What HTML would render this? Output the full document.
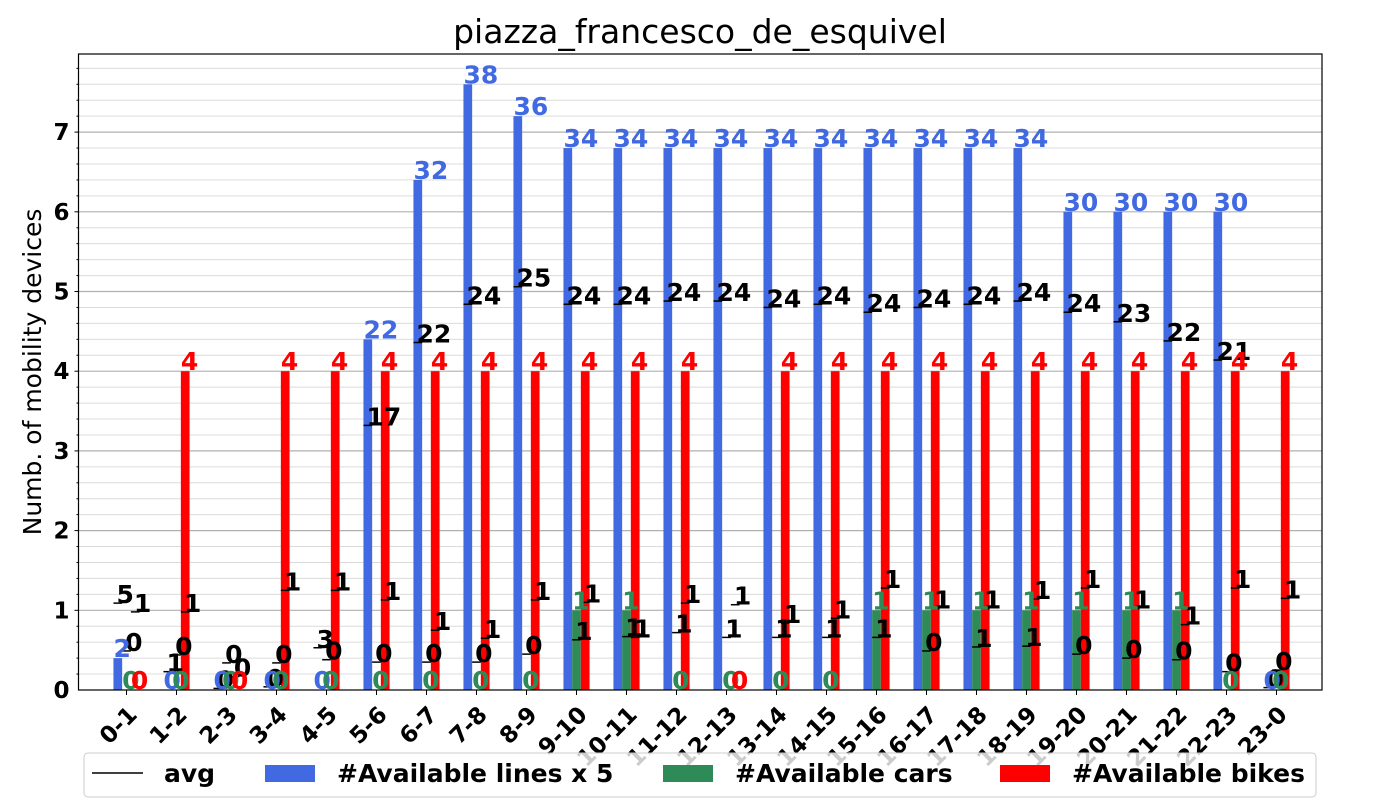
<!DOCTYPE html>
<html><head><meta charset="utf-8"><style>
html,body{margin:0;padding:0;background:#fff;}
svg text{font-family:"DejaVu Sans","Liberation Sans",sans-serif;}
</style></head><body>
<svg id="chart" width="1400" height="800" xmlns="http://www.w3.org/2000/svg"></svg>
<script>
const categories=["0-1","1-2","2-3","3-4","4-5","5-6","6-7","7-8","8-9","9-10","10-11","11-12","12-13","13-14","14-15","15-16","16-17","17-18","18-19","19-20","20-21","21-22","22-23","23-0"];
const linesX5=[2,0,0,0,0,22,32,38,36,34,34,34,34,34,34,34,34,34,34,30,30,30,30,0];
const cars=[0,0,0,0,0,0,0,0,0,1,1,0,0,0,0,1,1,1,1,1,1,1,0,0];
const bikes=[0,4,0,4,4,4,4,4,4,4,4,4,0,4,4,4,4,4,4,4,4,4,4,4];
const linesAvg=[5.45,1.15,0.1,0.2,2.65,16.6,21.8,24.2,25.3,24.2,24.2,24.4,24.4,24,24.2,23.7,24,24.2,24.4,23.7,23.1,21.9,20.7,0.15];
const carsAvg=[0.49,0.44,0.34,0.34,0.38,0.35,0.35,0.35,0.45,0.63,0.67,0.72,0.66,0.66,0.66,0.66,0.49,0.54,0.55,0.45,0.4,0.38,0.23,0.25];
const bikesAvg=[0.98,0.98,0.17,1.25,1.25,1.13,0.75,0.65,1.13,1.1,0.66,1.09,1.07,0.84,0.9,1.28,1.02,1.02,1.14,1.28,1.02,0.82,1.28,1.15];
const yTicks=[0,1,2,3,4,5,6,7];

const NS="http://www.w3.org/2000/svg";
const svg=document.getElementById('chart');
const L=78.5,R=1322,T=54,B=690,YMAX=7.98;
const y=v=>B-(v/YMAX)*(B-T);
const xc=i=>126.5+i*50;
const BW=8.7;
const FS=25;
function mk(tag,attrs,parent){const e=document.createElementNS(NS,tag);for(const k in attrs)e.setAttribute(k,attrs[k]);(parent||svg).appendChild(e);return e;}

for(let k=1;k<40;k++){const v=k*0.2;if(v>YMAX)break;const major=Math.abs(v-Math.round(v))<1e-6;
 const g=mk('line',{x1:L,x2:R,y1:y(v),y2:y(v),stroke:major?'#b0b0b0':'#dcdcdc','stroke-width':major?1.2:1});
 
 
 const t=mk('line',{x1:L-(major?4:2),x2:L,y1:y(v),y2:y(v),stroke:'#000','stroke-width':1});
 
 
}
yTicks.forEach(v=>{const t=mk('text',{x:L-9,y:y(v)+8,'text-anchor':'end','font-size':23,'font-weight':'bold'});t.textContent=v;
 
 });

const series=[{vals:linesX5,scale:5,color:'#4169e1',off:-BW,name:'lines'},{vals:cars,scale:1,color:'#2e8b57',off:0,name:'cars'},{vals:bikes,scale:1,color:'#ff0000',off:BW,name:'bikes'}];
series.forEach(s=>{s.vals.forEach((v,i)=>{const h=v/s.scale;const x0=xc(i)+s.off-BW/2;
 if(h>0){const r=mk('rect',{x:x0,y:y(h),width:BW,height:B-y(h),fill:s.color});
  
  }
});});
const avgs=[{vals:linesAvg,scale:5,off:-BW},{vals:carsAvg,scale:1,off:0},{vals:bikesAvg,scale:1,off:BW}];
avgs.forEach(a=>{a.vals.forEach((v,i)=>{const x0=xc(i)+a.off-BW/2;const yy=y(v/a.scale);
 const l=mk('line',{x1:x0,x2:x0+BW,y1:yy,y2:yy,stroke:'#000','stroke-width':1.5});
 
 
 const t=mk('text',{x:x0+3,y:yy,'font-size':FS,'font-weight':'bold',fill:'#000'});t.textContent=Math.round(v);
 
 
});});
series.forEach(s=>{s.vals.forEach((v,i)=>{const h=v/s.scale;const x0=xc(i)+s.off-BW/2;
 const t=mk('text',{x:x0,y:y(h)-1,'font-size':FS,'font-weight':'bold',fill:s.color});t.textContent=v;
 
 
});});

const f=mk('rect',{x:L,y:T,width:R-L,height:B-T,fill:'none',stroke:'#000','stroke-width':1.2});


categories.forEach((c,i)=>{const tk=mk('line',{x1:xc(i),x2:xc(i),y1:B,y2:B+5,stroke:'#000'});
 
 
 const ax=xc(i)+12, ay=B+26;
 const t=mk('text',{x:ax,y:ay,'text-anchor':'end','font-size':23,'font-weight':'bold',transform:`rotate(-45 ${ax} ${ay})`});t.textContent=c;
 
 });
const tt=mk('text',{x:700,y:43,'text-anchor':'middle','font-size':33});tt.textContent='piazza_francesco_de_esquivel';


const yl=mk('text',{x:41,y:372,'text-anchor':'middle','font-size':25,transform:'rotate(-90 41 372)'});yl.textContent='Numb. of mobility devices';


const lg=mk('g',{});


mk('rect',{x:84,y:753,width:1232,height:44,rx:4,fill:'rgba(255,255,255,0.8)',stroke:'#ccc'},lg);
const items=[{t:'avg',x:92,line:true},{t:'#Available lines x 5',x:265,c:'#4169e1'},{t:'#Available cars',x:663,c:'#2e8b57'},{t:'#Available bikes',x:1000,c:'#ff0000'}];
items.forEach(it=>{const g=mk('g',{},lg);
 
 
 if(it.line)mk('line',{x1:it.x,x2:it.x+51,y1:773,y2:773,stroke:'#000','stroke-width':1.5},g);
 else mk('rect',{x:it.x,y:765,width:50,height:17,fill:it.c},g);
 const t=mk('text',{x:it.x+72,y:782,'font-size':FS,'font-weight':'bold'},g);t.textContent=it.t;});
</script>
</body></html>
